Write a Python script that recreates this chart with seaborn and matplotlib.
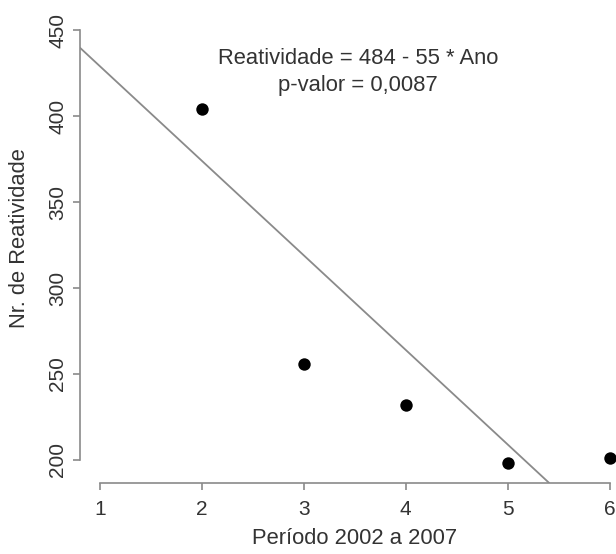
import seaborn as sns
import matplotlib.pyplot as plt
import pandas as pd

# Dados
anos = [2, 3, 4, 5, 6]
reatividade = [404, 256, 232, 198, 201]
intercepto = 484
inclinacao = -55
x_ticks = [1, 2, 3, 4, 5, 6]
y_ticks = [200, 250, 300, 350, 400, 450]

df = pd.DataFrame({"ano": anos, "reatividade": reatividade})

sns.set_style("white")
plt.rcParams["font.family"] = ["Liberation Sans", "DejaVu Sans"]

cinza = "#8a8a8a"
texto = "#333333"

fig = plt.figure(figsize=(6.16, 5.54), dpi=100)
# regiao do grafico estilo R (passa um pouco da borda direita)
ax = fig.add_axes([80 / 616, 1 - 483 / 554, (630 - 80) / 616, (483 - 13) / 554])

sns.scatterplot(data=df, x="ano", y="reatividade", ax=ax, color="black",
                s=80, edgecolor="black", linewidth=0, clip_on=False, zorder=3)
ax.axline((0, intercepto), slope=inclinacao, color=cinza, linewidth=1.3)

ax.set_xlim(0.804, 6.2)
ax.set_ylim(186.6, 460)

for s in ["top", "right"]:
    ax.spines[s].set_visible(False)
ax.spines["left"].set_bounds(200, 450)
ax.spines["bottom"].set_bounds(1, 6)
for s in ["left", "bottom"]:
    ax.spines[s].set_color(cinza)
    ax.spines[s].set_linewidth(1.2)

ax.set_xticks(x_ticks)
ax.set_yticks(y_ticks)
ax.tick_params(axis="both", direction="out", length=5, width=1.2, color=cinza,
               labelsize=15, labelcolor=texto, left=True, bottom=True)
ax.tick_params(axis="x", pad=7)
ax.tick_params(axis="y", pad=4)
for lab in ax.get_yticklabels():
    lab.set_rotation(90)
    lab.set_va("center")

ax.set_xlabel("Período 2002 a 2007", fontsize=15.8, color=texto)
ax.set_ylabel("Nr. de Reatividade", fontsize=15.8, color=texto)
ax.xaxis.set_label_coords((355 - 80) / 550, -(539 - 483) / 470)
ax.yaxis.set_label_coords(-(80 - 20) / 550, (483 - 238) / 470)
ax.xaxis.label.set_va("center")
ax.yaxis.label.set_va("center")

ax.text(358 / 616, 1 - 58 / 554, "Reatividade = 484 - 55 * Ano", transform=fig.transFigure,
        ha="center", va="center", fontsize=15.8, color=texto)
ax.text(358 / 616, 1 - 85 / 554, "p-valor = 0,0087", transform=fig.transFigure,
        ha="center", va="center", fontsize=15.8, color=texto)

fig.savefig("out.png", dpi=100)
